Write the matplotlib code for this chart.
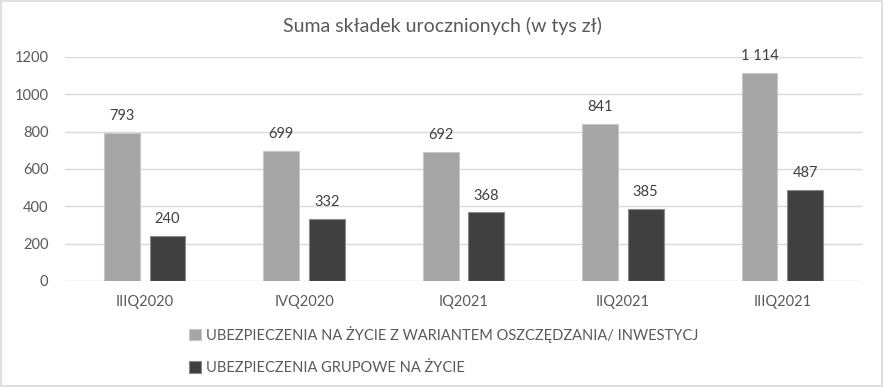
import matplotlib
matplotlib.use("Agg")
import matplotlib.pyplot as plt
import numpy as np

categories = ["IIIQ2020", "IVQ2020", "IQ2021", "IIQ2021", "IIIQ2021"]
series1_name = "UBEZPIECZENIA NA ŻYCIE Z WARIANTEM OSZCZĘDZANIA/ INWESTYCJ"
series2_name = "UBEZPIECZENIA GRUPOWE NA ŻYCIE"
series1 = [793, 699, 692, 841, 1114]
series2 = [240, 332, 368, 385, 487]
yticks = [0, 200, 400, 600, 800, 1000, 1200]
title = "Suma składek urocznionych (w tys zł)"

plt.rcParams['font.family'] = ['Lato', 'DejaVu Sans']
txt = '#595959'

fig = plt.figure(figsize=(8.84, 3.87), dpi=100)
ax = fig.add_axes([65/884, 1-281/387, (862-65)/884, (281-57)/387])

x = np.arange(len(categories))
w = 0.225
off = 0.143
b1 = ax.bar(x - off, series1, w, color='#a5a5a5', edgecolor='#c8c8c8', linewidth=0.8, label=series1_name, zorder=3)
b2 = ax.bar(x + off, series2, w, color='#404040', edgecolor='#8a8a8a', linewidth=0.8, label=series2_name, zorder=3)

def fmt(v):
    return f"{v:,}".replace(",", " ")

for bars, vals in ((b1, series1), (b2, series2)):
    for r, v in zip(bars, vals):
        ax.annotate(fmt(v), (r.get_x() + r.get_width()/2, v), xytext=(0, 7),
                    textcoords='offset points', ha='center', va='bottom',
                    fontsize=10.5, color='#404040')

ax.set_xlim(-0.5, len(categories) - 0.5)
ax.set_ylim(0, 1200)
ax.set_yticks(yticks)
ax.set_yticklabels([str(t) for t in yticks])
ax.set_xticks(x)
ax.set_xticklabels(categories)
ax.tick_params(axis='both', length=0, labelsize=10.5, labelcolor=txt)
ax.tick_params(axis='x', pad=10)
ax.tick_params(axis='y', pad=12)
ax.yaxis.grid(True, color='#d9d9d9', linewidth=1, zorder=0)
ax.set_axisbelow(True)
for s in ax.spines.values():
    s.set_visible(False)

fig.text(0.5, 1-26/387, title, ha='center', va='center', fontsize=14, color=txt)

leg = fig.legend(handles=[b1, b2], loc='upper left', bbox_to_anchor=(183/884, 1-320/387),
                 ncol=1, frameon=False, fontsize=10.5, handlelength=0.8, handleheight=0.8,
                 handletextpad=0.4, labelspacing=1.25, borderaxespad=0)
for t in leg.get_texts():
    t.set_color(txt)

fig.patches.append(matplotlib.patches.Rectangle((0.001, 0.002), 0.997, 0.995, transform=fig.transFigure,
                                                fill=False, edgecolor='#d9d9d9', linewidth=1.2))

fig.savefig("out.png", dpi=100, facecolor='white')
